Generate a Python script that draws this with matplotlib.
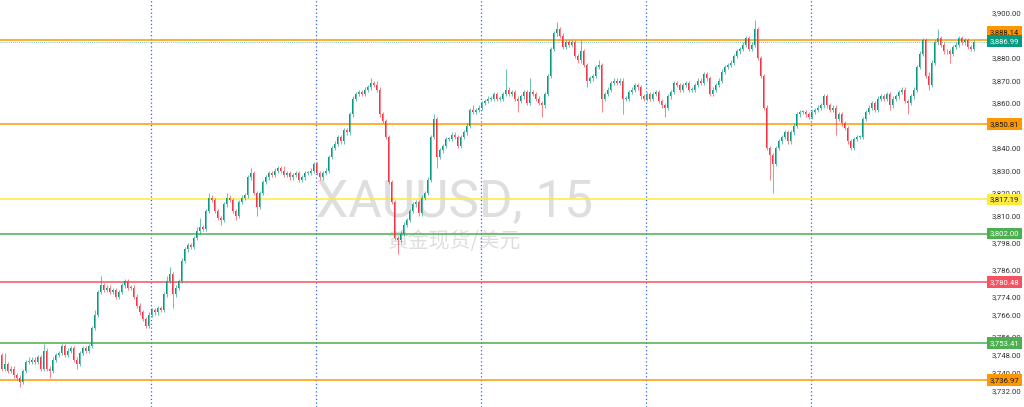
import numpy as np
import matplotlib.pyplot as plt
from matplotlib.transforms import blended_transform_factory

# XAUUSD 15m candles (open of each bar = previous close)
first_open = 3748
closes = [
    3742, 3744, 3741, 3742, 3739, 3738, 3736, 3741, 3745, 3745, 3746, 3745, 3747, 3742, 3750, 3742, 3741, 3746, 3748, 3749, 3752, 3748, 3750, 3751, 3746,
    3744, 3749, 3751, 3750, 3752, 3760, 3766, 3776, 3779, 3777, 3778, 3776, 3777, 3774, 3776, 3779, 3781, 3778, 3778, 3774, 3770, 3767, 3764, 3761, 3766,
    3768, 3767, 3769, 3768, 3775, 3781, 3784, 3775, 3778, 3781, 3790, 3795, 3797, 3796, 3800, 3803, 3805, 3804, 3812, 3818, 3817, 3812, 3809, 3808, 3815,
    3818, 3817, 3812, 3810, 3816, 3818, 3819, 3827, 3829, 3820, 3814, 3820, 3825, 3827, 3829, 3828, 3830, 3831, 3830, 3828, 3829, 3827, 3828, 3829, 3826,
    3827, 3829, 3829, 3830, 3833, 3829, 3827, 3829, 3830, 3836, 3840, 3842, 3845, 3843, 3848, 3847, 3855, 3862, 3864, 3865, 3864, 3866, 3867, 3869, 3868,
    3866, 3855, 3852, 3845, 3825, 3816, 3800, 3799, 3802, 3806, 3808, 3812, 3815, 3816, 3811, 3818, 3820, 3826, 3845, 3853, 3836, 3839, 3841, 3844, 3844,
    3846, 3845, 3841, 3845, 3847, 3850, 3857, 3856, 3857, 3858, 3860, 3861, 3862, 3862, 3864, 3862, 3862, 3864, 3866, 3864, 3865, 3862, 3861, 3863, 3865,
    3860, 3865, 3864, 3862, 3860, 3859, 3864, 3872, 3884, 3891, 3893, 3890, 3885, 3887, 3886, 3887, 3881, 3879, 3883, 3877, 3870, 3871, 3872, 3876, 3877,
    3862, 3864, 3866, 3869, 3870, 3869, 3870, 3862, 3862, 3865, 3866, 3868, 3867, 3863, 3862, 3864, 3862, 3864, 3865, 3861, 3859, 3858, 3863, 3865, 3869,
    3868, 3866, 3868, 3869, 3866, 3866, 3868, 3870, 3869, 3873, 3871, 3864, 3866, 3868, 3870, 3874, 3876, 3877, 3878, 3881, 3883, 3884, 3886, 3889, 3884,
    3886, 3893, 3880, 3872, 3858, 3840, 3837, 3833, 3840, 3843, 3845, 3847, 3843, 3847, 3850, 3855, 3856, 3856, 3855, 3854, 3856, 3857, 3858, 3859, 3863,
    3859, 3857, 3858, 3853, 3855, 3851, 3849, 3843, 3840, 3844, 3845, 3845, 3853, 3856, 3858, 3860, 3857, 3862, 3863, 3862, 3864, 3859, 3862, 3863, 3865,
    3866, 3861, 3860, 3863, 3866, 3876, 3882, 3888, 3872, 3868, 3878, 3887, 3889, 3886, 3883, 3883, 3882, 3885, 3886, 3889, 3887, 3888, 3885, 3884, 3886.99,
]
# wick length above / below the body, in dollars
wick_up = [
    1, 5, 1, 1, 1, 1, 1, 1, 1, 2, 1, 1, 1, 1, 3, 1, 1, 1, 1, 1, 1, 1, 1, 1, 1,
    1, 1, 1, 1, 1, 1, 2, 1, 4, 1, 1, 1, 1, 1, 1, 1, 1, 1, 1, 1, 1, 1, 1, 1, 1,
    1, 1, 1, 1, 1, 2, 3, 1, 1, 1, 1, 1, 1, 1, 1, 2, 4, 1, 1, 2, 1, 1, 1, 1, 1,
    2, 1, 1, 1, 1, 1, 1, 1, 2, 1, 1, 1, 1, 1, 1, 1, 1, 1, 1, 2, 1, 1, 1, 1, 1,
    1, 1, 1, 1, 1, 1, 1, 1, 1, 1, 1, 1, 1, 1, 1, 1, 1, 1, 1, 1, 1, 1, 1, 2, 1,
    2, 1, 1, 1, 1, 1, 1, 1, 1, 1, 1, 1, 1, 1, 1, 1, 1, 1, 1, 2, 1, 1, 1, 1, 1,
    1, 1, 1, 1, 1, 1, 1, 2, 1, 1, 1, 1, 1, 1, 1, 1, 1, 1, 9, 1, 1, 1, 1, 1, 1,
    1, 6, 1, 1, 1, 1, 1, 1, 1, 1, 3, 1, 1, 1, 1, 1, 1, 1, 5, 1, 1, 1, 1, 1, 2,
    1, 1, 1, 1, 1, 1, 1, 1, 1, 1, 1, 1, 1, 1, 1, 1, 1, 1, 1, 1, 1, 1, 1, 1, 1,
    1, 1, 1, 1, 1, 1, 1, 1, 1, 1, 1, 1, 1, 1, 1, 1, 1, 1, 1, 1, 1, 1, 1, 1, 1,
    1, 4, 1, 1, 1, 1, 1, 1, 1, 1, 1, 1, 1, 1, 1, 1, 1, 1, 1, 1, 1, 1, 1, 1, 1,
    1, 1, 1, 1, 1, 1, 1, 1, 1, 1, 1, 1, 1, 1, 1, 1, 1, 1, 1, 1, 1, 1, 1, 1, 1,
    1, 1, 1, 1, 1, 1, 1, 1, 1, 2, 1, 1, 4, 1, 1, 1, 1, 1, 1, 1, 1, 1, 1, 1, 1,
]
wick_dn = [
    1, 1, 1, 1, 1, 1, 2, 1, 1, 1, 1, 1, 1, 1, 1, 1, 3, 1, 1, 1, 1, 1, 1, 1, 1,
    2, 1, 1, 1, 1, 1, 1, 1, 1, 1, 1, 1, 1, 1, 1, 1, 1, 1, 1, 1, 1, 1, 1, 1, 1,
    1, 1, 1, 1, 1, 1, 1, 6, 1, 1, 1, 1, 1, 1, 1, 1, 1, 1, 1, 1, 1, 1, 1, 2, 1,
    1, 1, 1, 2, 1, 1, 1, 1, 1, 1, 4, 1, 1, 1, 1, 1, 1, 1, 1, 1, 1, 1, 1, 1, 1,
    1, 1, 1, 1, 1, 1, 1, 1, 1, 1, 1, 1, 1, 1, 1, 1, 1, 1, 1, 1, 1, 1, 1, 1, 1,
    1, 1, 1, 1, 1, 1, 1, 6, 1, 1, 1, 1, 1, 1, 1, 1, 1, 1, 1, 1, 5, 1, 1, 1, 1,
    1, 1, 1, 1, 1, 1, 1, 1, 1, 1, 1, 1, 1, 1, 1, 1, 1, 1, 1, 1, 1, 1, 5, 1, 1,
    1, 1, 1, 1, 1, 5, 1, 1, 1, 1, 1, 1, 1, 1, 1, 1, 1, 1, 1, 1, 3, 1, 1, 1, 1,
    6, 1, 1, 1, 1, 1, 1, 7, 1, 1, 1, 1, 1, 1, 1, 1, 1, 1, 1, 1, 1, 4, 1, 1, 1,
    1, 1, 1, 1, 1, 1, 1, 1, 1, 1, 1, 1, 1, 1, 1, 1, 1, 1, 1, 1, 1, 1, 1, 1, 1,
    1, 1, 1, 1, 1, 1, 11, 13, 1, 1, 1, 1, 1, 1, 1, 1, 1, 1, 1, 1, 1, 1, 1, 1, 1,
    1, 1, 1, 7, 1, 1, 1, 1, 1, 1, 1, 1, 1, 1, 1, 1, 1, 1, 1, 1, 1, 2, 1, 1, 1,
    1, 1, 5, 1, 1, 1, 1, 1, 1, 2, 1, 1, 1, 1, 1, 1, 4, 1, 1, 1, 1, 1, 1, 1, 1,
]

# session separators (bar index)
day_breaks = [49.7, 104.7, 159.7, 214.7, 269.7]

# horizontal levels: price, line colour, label text colour
levels = [3888.14, 3850.81, 3817.19, 3802.00, 3780.48, 3753.41, 3736.97]
level_colors = ['#ff9800', '#ff9800', '#ffeb3b', '#4caf50', '#f7525f', '#4caf50', '#ff9800']
level_text = ['#131722', '#131722', '#131722', 'white', 'white', 'white', '#131722']
last_price = 3886.99

price_ticks = [3900, 3880, 3870, 3860, 3840, 3830, 3820, 3810, 3798, 3786,
               3774, 3766, 3756, 3748, 3740, 3732]

up_col = '#089981'
dn_col = '#f23645'

closes = np.array(closes, dtype=float)
opens = np.concatenate([[first_open], closes[:-1]])
highs = np.maximum(opens, closes) + np.array(wick_up)
lows = np.minimum(opens, closes) - np.array(wick_dn)
idx = np.arange(len(closes))
colors = np.where(closes >= opens, up_col, dn_col)

fig = plt.figure(figsize=(10.24, 4.07), dpi=100)
ax = fig.add_axes([0, 0, 987 / 1024, 1])
ax.set_xlim(-0.5, 328.5)
ax.set_ylim(3724.94, 3905.83)
for s in ax.spines.values():
    s.set_visible(False)
ax.set_xticks([])

# watermark
ax.text(455 / 987, 1 - 203 / 407, 'XAUUSD, 15', transform=ax.transAxes, ha='center', va='center',
        fontsize=37, color='#dedede', family='Roboto', zorder=0)
ax.text(455 / 987, 1 - 241 / 407, '黄金现货/美元', transform=ax.transAxes, ha='center', va='center',
        fontsize=15, color='#dedede', family=['Noto Sans CJK SC', 'DejaVu Sans'], zorder=0)

for xb in day_breaks:
    ax.axvline(xb, color='#2962ff', linestyle=(0, (1, 2)), linewidth=0.9, zorder=1)

for p, c in zip(levels, level_colors):
    ax.axhline(p, color=c, linewidth=1.1, zorder=1.5)
ax.axhline(last_price, color=up_col, linestyle=(0, (1, 1.5)), linewidth=0.6, alpha=0.7, zorder=1.5)

# candles
ax.vlines(idx, lows, highs, colors=colors, linewidth=0.75, alpha=0.6, zorder=2)
body = np.maximum(np.abs(closes - opens), 0.3)
ax.bar(idx, body, bottom=np.minimum(opens, closes), width=0.65, color=colors, linewidth=0, zorder=3)

# right price scale
ax.yaxis.tick_right()
ax.set_yticks(price_ticks)
ax.set_yticklabels([f'{t:,.2f}' for t in price_ticks], family='Roboto')
ax.tick_params(axis='y', length=0, pad=3.5, labelsize=5.6, labelcolor='#333333')

# price labels; the two near the top are pushed apart like the scale does
label_pos = {3888.14: 3891.7}
tr = blended_transform_factory(fig.transFigure, ax.transData)
for p, c, tc in zip(levels, level_colors, level_text):
    ax.text(990 / 1024, label_pos.get(p, p), f'{p:,.2f}', transform=tr, ha='left', va='center',
            fontsize=5.6, family='Roboto', color=tc, clip_on=False, zorder=6,
            bbox=dict(boxstyle='square,pad=0.35', fc=c, ec='none'))
ax.text(990 / 1024, last_price + 0.6, f'{last_price:,.2f}', transform=tr, ha='left', va='center',
        fontsize=5.6, family='Roboto', color='white', clip_on=False, zorder=7,
        bbox=dict(boxstyle='square,pad=0.35', fc=up_col, ec='none'))

fig.savefig('out.png', dpi=100, facecolor='white')
